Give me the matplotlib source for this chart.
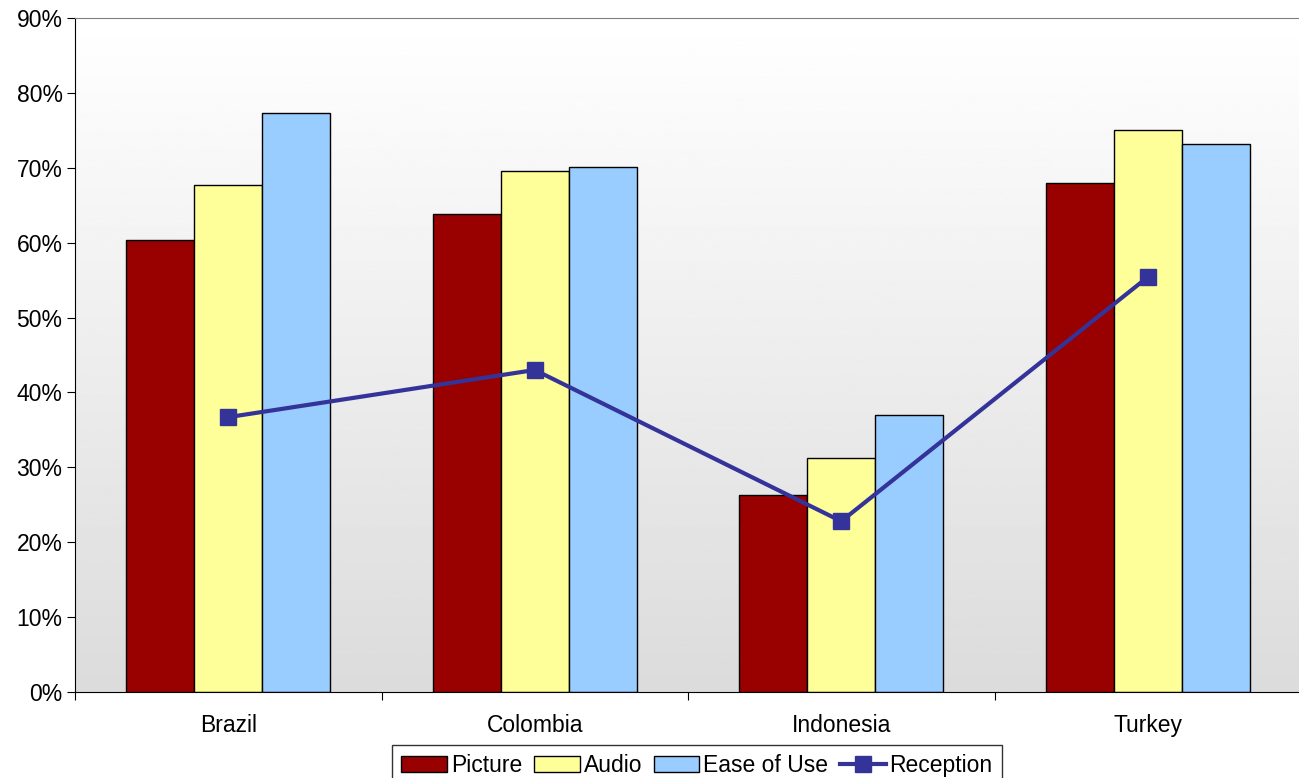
import numpy as np
import matplotlib.pyplot as plt
from matplotlib.ticker import FuncFormatter

plt.rcParams['font.family'] = ['Liberation Sans', 'DejaVu Sans']

countries = ['Brazil', 'Colombia', 'Indonesia', 'Turkey']
picture = [60.3, 63.8, 26.3, 68.0]
audio = [67.7, 69.6, 31.2, 75.0]
ease = [77.3, 70.1, 37.0, 73.2]
reception = [36.7, 43.0, 22.8, 55.4]

fig = plt.figure(figsize=(12.99, 7.78), dpi=100)
ax = fig.add_axes([75/1299, 1-692/778, 1226/1299, 674/778])

# gradient background, white at top to light grey at bottom
grad = np.linspace(0.86, 1.0, 256).reshape(-1, 1)
ax.imshow(grad, cmap='gray', vmin=0, vmax=1, aspect='auto', origin='lower',
          extent=[-0.5, 3.5, 0, 90], zorder=0)

x = np.arange(len(countries))
w = 0.222
b1 = ax.bar(x - w, picture, w, color='#990000', edgecolor='black', lw=1, label='Picture', zorder=2)
b2 = ax.bar(x, audio, w, color='#FFFF99', edgecolor='black', lw=1, label='Audio', zorder=2)
b3 = ax.bar(x + w, ease, w, color='#99CCFF', edgecolor='black', lw=1, label='Ease of Use', zorder=2)
l1, = ax.plot(x, reception, color='#333399', lw=3, marker='s', ms=12, label='Reception', zorder=3)

ax.set_xlim(-0.5, 3.5)
ax.set_ylim(0, 90)
ax.set_yticks(np.arange(0, 91, 10))
ax.yaxis.set_major_formatter(FuncFormatter(lambda v, p: '{:.0f}%'.format(v)))
ax.set_xticks(np.arange(-0.5, 3.6, 1))
ax.set_xticklabels([])
ax.set_xticks(x, minor=True)
ax.set_xticklabels(countries, minor=True)
ax.tick_params(axis='x', which='minor', length=0, pad=16, labelsize=16.5)
ax.tick_params(axis='x', which='major', length=6, direction='out')
ax.tick_params(axis='y', length=6, direction='out', labelsize=16.5, pad=3)

ax.spines['top'].set_color('#808080')
ax.spines['right'].set_color('#808080')
ax.spines['left'].set_color('black')
ax.spines['bottom'].set_color('black')

leg = ax.legend([b1, b2, b3, l1], ['Picture', 'Audio', 'Ease of Use', 'Reception'],
                loc='upper center', bbox_to_anchor=(622/1226, -53/674), ncol=4,
                frameon=True, fancybox=False, edgecolor='black', fontsize=16.5,
                handlelength=2.0, handleheight=0.65, handletextpad=0.17,
                columnspacing=0.5, borderpad=0.4, borderaxespad=0)
leg.get_frame().set_linewidth(1)

fig.savefig('out.png', dpi=100)
